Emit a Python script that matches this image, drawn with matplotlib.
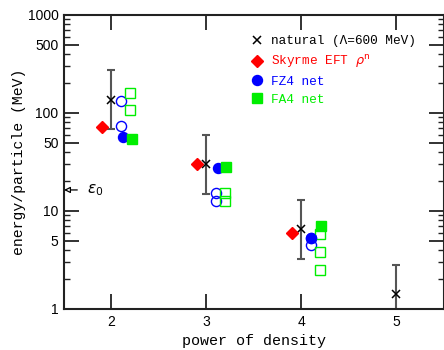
import numpy as np
import matplotlib
matplotlib.use("Agg")
import matplotlib.pyplot as plt
from matplotlib.lines import Line2D
from matplotlib.ticker import FixedLocator, FixedFormatter, NullFormatter

# --- data ---
powers = [2, 3, 4, 5]
natural = [136, 30, 6.5, 1.42]
natural_lo = [68, 15, 3.25, 0.71]
natural_hi = [272, 60, 13, 2.84]

skyrme_x = [1.9, 2.9, 3.9]
skyrme_y = [72, 30, 6.0]

fz4_x = [2.12, 3.12, 4.1]
fz4_y = [57, 27.7, 5.3]
fz4_open_x = [2.1, 2.1, 3.1, 3.1, 4.1, 4.1]
fz4_open_y = [133, 74, 15.4, 12.7, 5.35, 4.5]

fa4_x = [2.22, 3.21, 4.21]
fa4_y = [54, 28, 7.1]
fa4_open_x = [2.2, 2.2, 3.2, 3.2, 4.2, 4.2, 4.2]
fa4_open_y = [160, 107, 15.4, 12.6, 5.8, 3.8, 2.48]

eps0 = 16.4

mono = ["Liberation Mono", "DejaVu Sans Mono"]
green = "#00ee00"

fig = plt.figure(figsize=(4.44, 3.5), dpi=100)
ax = fig.add_axes([64 / 444, 1 - 309 / 350, 379.5 / 444, 294 / 350])

# natural estimate with factor-2 band
nat = np.array(natural)
yerr = [nat - np.array(natural_lo), np.array(natural_hi) - nat]
ax.errorbar(powers, natural, yerr=yerr, fmt="none", ecolor="#555555",
            elinewidth=1.5, capsize=3, capthick=1.5, zorder=2)
ax.plot(powers, natural, "x", color="black", ms=6, mew=1.1, zorder=3)

ax.plot(skyrme_x, skyrme_y, "D", color="red", ms=6.3, mec="red", zorder=3)
ax.plot(fz4_open_x, fz4_open_y, "o", mfc="none", mec="blue", ms=7.3, mew=1, zorder=3)
ax.plot(fz4_x, fz4_y, "o", color="blue", ms=7.2, zorder=4)
ax.plot(fa4_open_x, fa4_open_y, "s", mfc="none", mec=green, ms=6.5, mew=1, zorder=3)
ax.plot(fa4_x, fa4_y, "s", color=green, ms=6.6, zorder=4)

ax.set_yscale("log")
ax.set_xlim(1.5, 5.5)
ax.set_ylim(1, 1000)

# ticks
ax.xaxis.set_major_locator(FixedLocator([2, 3, 4, 5]))
ax.xaxis.set_minor_locator(FixedLocator([]))
major_y = [1, 5, 10, 50, 100, 500, 1000]
ax.yaxis.set_major_locator(FixedLocator(major_y))
ax.yaxis.set_major_formatter(FixedFormatter([str(v) for v in major_y]))
minor_y = [m * 10 ** d for d in range(3) for m in range(2, 10) if m != 5]
ax.yaxis.set_minor_locator(FixedLocator(minor_y))
ax.yaxis.set_minor_formatter(NullFormatter())
ax.tick_params(which="major", direction="in", length=11, width=1.3,
               top=True, right=True, labelsize=10, pad=4, colors="#222222",
               labelcolor="black")
ax.tick_params(which="minor", direction="in", length=4, width=1,
               right=True, colors="#222222")
for lab in ax.get_xticklabels() + ax.get_yticklabels():
    lab.set_fontfamily(["Liberation Sans", "DejaVu Sans"])
for s in ax.spines.values():
    s.set_linewidth(1.5)
    s.set_color("#222222")

ax.set_xlabel("power of density", family=mono, fontsize=10.8, labelpad=4)
ax.set_ylabel("energy/particle (MeV)", family=mono, fontsize=10.6, labelpad=1)

# epsilon_0 marker
ax.annotate("", xy=(1.5, eps0), xytext=(1.64, eps0),
            arrowprops=dict(arrowstyle="-|>", fc="white", ec="black",
                            lw=0.9, mutation_scale=9, shrinkA=0, shrinkB=0))
ax.text(1.74, eps0, r"$\epsilon_0$", fontsize=11, va="center", ha="left")

# legend
handles = [
    Line2D([], [], ls="none", marker="x", color="black", ms=6, mew=1.1),
    Line2D([], [], ls="none", marker="D", color="red", ms=6.3),
    Line2D([], [], ls="none", marker="o", color="blue", ms=7.2),
    Line2D([], [], ls="none", marker="s", color=green, ms=6.5),
]
labels = ["natural (\u039b=600 MeV)", r"Skyrme EFT $\rho^{\rm n}$", "FZ4 net", "FA4 net"]
leg = ax.legend(handles, labels, loc="upper left", bbox_to_anchor=(0.481, 0.948),
                frameon=False, handlelength=0.8, handletextpad=0.75,
                labelspacing=0.45, borderaxespad=0,
                prop={"family": mono, "size": 9.2},
                labelcolor=["black", "red", "blue", green])

fig.savefig("out.png", dpi=100)
